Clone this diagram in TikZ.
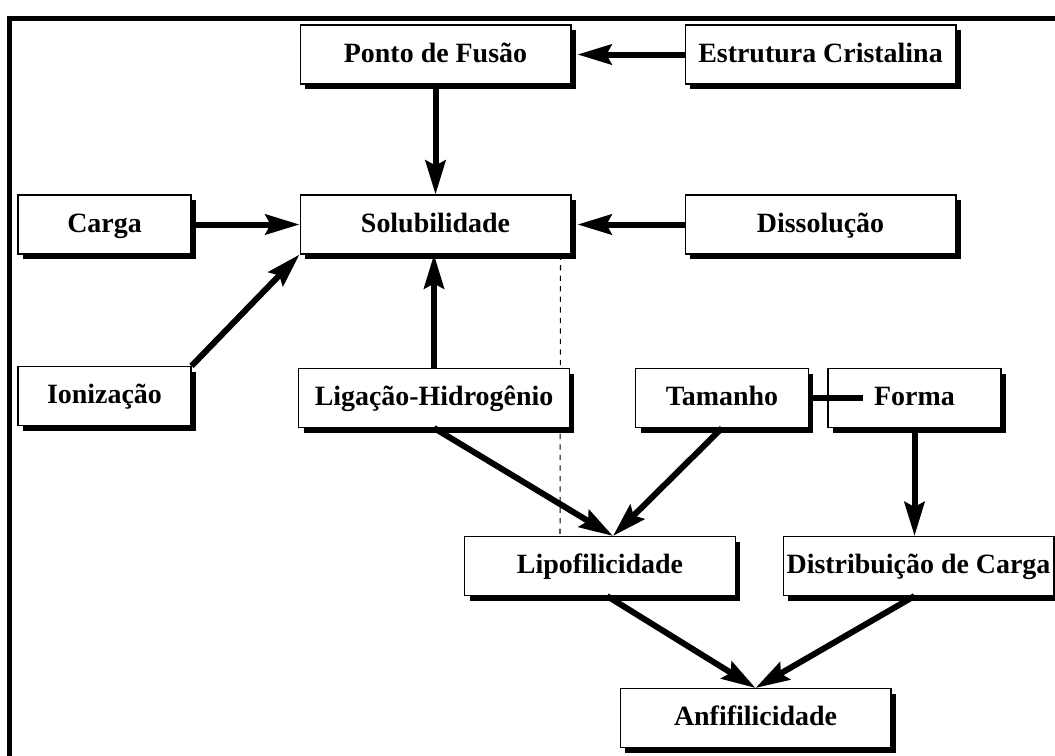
\documentclass[tikz,border=0pt]{standalone}
\usepackage{fontspec}
\setmainfont{Liberation Serif}
\usepackage{tikz}
\usetikzlibrary{arrows.meta,calc,positioning,shadows,backgrounds}
\tikzset{
  box/.style={draw, line width=0.6pt, fill=white, inner sep=0pt, minimum height=1.18cm,
    text height=10.8pt, text depth=2.2pt,
    font=\fontsize{15.9}{19}\selectfont\bfseries,
    drop shadow={shadow xshift=0.1cm, shadow yshift=-0.1cm, fill=black, opacity=1}},
  widebox/.style={box, minimum width=5.42cm},
  shortbox/.style={box, minimum width=3.46cm},
  seta/.style={line width=0.12cm, -{Stealth[length=0.68cm, width=0.4cm, inset=0.1cm]}},
  liga/.style={line width=0.12cm},
  every picture/.style={line join=miter}
}

\begin{document}
\begin{tikzpicture}[x=0.02cm, y=-0.02cm]
  \useasboundingbox (0,0) rectangle (1055,755);
  \draw[line width=0.1cm] (9.5,770) -- (9.5,18) -- (1070,18);
  \node[widebox] (fusao) at (435.5,54.5) {Ponto de Fusão};
  \node[widebox] (cristal) at (820.5,54.5) {Estrutura Cristalina};
  \node[shortbox] (carga) at (104.5,224.5) {Carga};
  \node[widebox] (solub) at (435.5,224.5) {Solubilidade};
  \node[widebox] (dissol) at (820.5,224.5) {Dissolução};
  \node[shortbox] (ioniz) at (104.5,396) {Ionização};
  \node[widebox] (ligacao) at (434,398) {Ligação-Hidrogênio};
  \node[shortbox] (tamanho) at (722,398) {Tamanho};
  \node[shortbox] (forma) at (914.5,398) {Forma};
  \node[widebox] (lipo) at (600,566) {Lipofilicidade};
  \node[widebox] (distrib) at (918.5,566) {Distribuição de Carga};
  \node[widebox] (anfi) at (755.5,718) {Anfifilicidade};
  % connectors
  \draw[seta, shorten >=0.12cm] (cristal.west) -- (fusao.east);
  \draw[seta] (fusao.south) -- (solub.north);
  \draw[seta] (carga.east) -- (solub.west);
  \draw[seta, shorten >=0.12cm] (dissol.west) -- (solub.east);
  \draw[seta] (ioniz.north east) -- (solub.south west);
  \draw[seta] (ligacao.north) -- (ligacao.north |- solub.south);
  \draw[seta] (ligacao.south) -- ($(lipo.north)+(13,0)$);
  \draw[seta] (tamanho.south) -- ($(lipo.north)+(13,0)$);
  \draw[liga] (tamanho.east) -- ($(forma.west)+(36,0)$);
  \draw[seta] (forma.south) -- (forma.south |- distrib.north);
  \draw[seta] ($(lipo.south)+(7,0)$) -- (anfi.north);
  \draw[seta] ($(distrib.south)+(-4,0)$) -- (anfi.north);
  % dashed guide, behind the boxes
  \begin{scope}[on background layer]
    \draw[dashed, line width=0.6pt] ($(solub.south)+(125,0)$) -- ($(lipo.north)+(-40,0)$);
  \end{scope}
\end{tikzpicture}
\end{document}
